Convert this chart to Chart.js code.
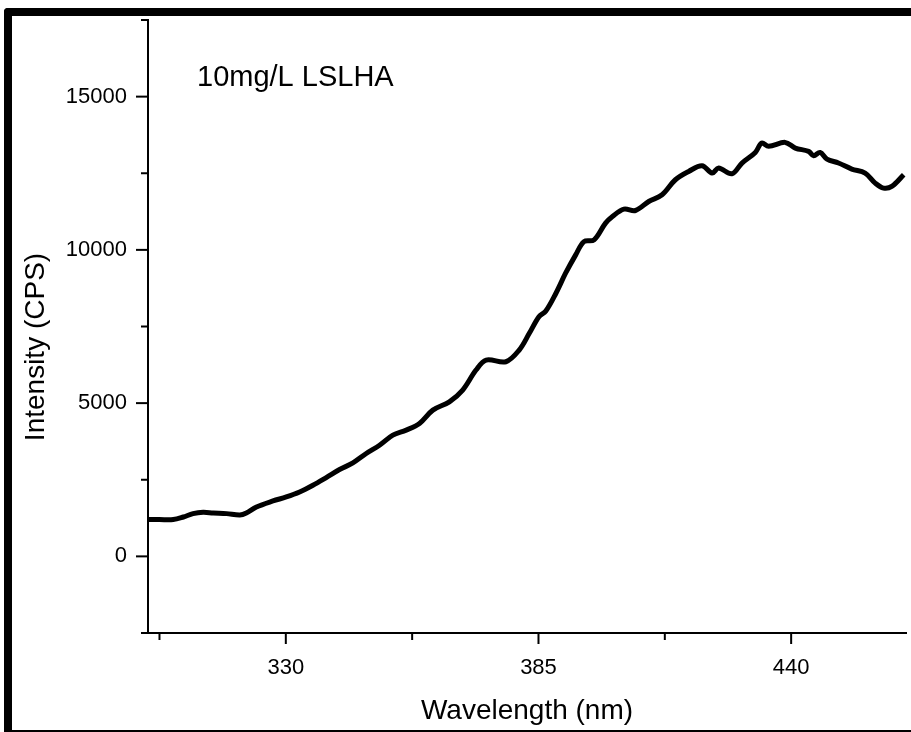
<!DOCTYPE html>
<html>
<head>
<meta charset="utf-8">
<title>LSLHA fluorescence</title>
<script src="https://cdn.jsdelivr.net/npm/chart.js@4.4.1/dist/chart.umd.min.js"></script>
<style>
    html, body { margin: 0; padding: 0; background: #fff; overflow: hidden; }
    #wrap { position: relative; width: 911px; height: 732px; }
    /* scanned page frame: thick top/left edge, thin bottom */
    #frame {
        position: absolute; left: 4px; top: 8px; width: 1000px; height: 724px;
        box-sizing: border-box;
        border-top: 8px solid #000; border-left: 8px solid #000; border-bottom: 2px solid #000;
        border-top-left-radius: 4px;
        pointer-events: none;
    }
</style>
</head>
<body>
<div id="wrap">
    <canvas id="spectrum" width="911" height="732"></canvas>
    <div id="frame"></div>
</div>
<script>
// Emission spectrum, 10mg/L LSLHA
const wavelength = [
    300.0, 302.5, 305.5, 307.7, 309.8, 312.0, 314.2, 317.1, 320.0, 321.4,
    323.6, 327.2, 330.1, 333.0, 335.9, 338.8, 341.7, 344.6, 347.5, 350.4,
    353.3, 356.2, 359.1, 362.0, 365.6, 368.5, 371.4, 373.6, 377.9, 380.8,
    383.0, 385.1, 386.6, 388.8, 390.9, 393.1, 394.9, 397.1, 399.6, 401.1,
    403.6, 406.1, 409.0, 411.9, 414.8, 417.7, 420.6, 422.8, 424.2, 427.1,
    429.3, 432.2, 433.6, 435.1, 438.7, 440.9, 443.8, 444.9, 446.3, 447.8,
    450.3, 453.2, 456.1, 458.3, 460.1, 461.9, 464.5
];
const intensity = [
    1200, 1200, 1200, 1285, 1395, 1438, 1415, 1395, 1350, 1415,
    1611, 1807, 1938, 2101, 2320, 2572, 2833, 3049, 3356, 3627,
    3954, 4118, 4337, 4771, 5043, 5425, 6078, 6405, 6350, 6732,
    7277, 7821, 8007, 8585, 9238, 9837, 10271, 10327, 10872, 11089,
    11330, 11285, 11579, 11797, 12288, 12559, 12745, 12506, 12670, 12484,
    12833, 13180, 13486, 13377, 13507, 13322, 13213, 13072, 13180, 12963,
    12833, 12637, 12506, 12179, 12016, 12070, 12451
];

// axis ticks
const xMajor = [330, 385, 440];
const xMinor = [302.5, 357.5, 412.5];
const yMajor = [0, 5000, 10000, 15000];
const yMinor = [-2500, 2500, 7500, 12500, 17500];

const xTicks = xMajor.concat(xMinor).sort((a, b) => a - b);
const yTicks = yMajor.concat(yMinor).sort((a, b) => a - b);

const FONT = "'Liberation Sans', Arial, sans-serif";

// draws the outward tick marks (long for major, short for minor) plus the inset label and y title
const decorations = {
    id: 'decorations',
    afterDraw(chart) {
        const { ctx, scales: { x, y } } = chart;
        ctx.save();
        ctx.strokeStyle = '#000';
        ctx.lineWidth = 2;

        xTicks.forEach(v => {
            const px = x.getPixelForValue(v);
            const len = xMajor.includes(v) ? 11 : 7;
            ctx.beginPath();
            ctx.moveTo(px, x.top);
            ctx.lineTo(px, x.top + len);
            ctx.stroke();
        });
        yTicks.forEach(v => {
            const py = y.getPixelForValue(v);
            const len = yMajor.includes(v) ? 12 : 7;
            ctx.beginPath();
            ctx.moveTo(y.right, py);
            ctx.lineTo(y.right - len, py);
            ctx.stroke();
        });

        ctx.fillStyle = '#000';
        ctx.font = '29px ' + FONT;
        ctx.textAlign = 'left';
        ctx.textBaseline = 'middle';
        ctx.fillText('10mg/L LSLHA', 197, 78);

        ctx.translate(36, 347);
        ctx.rotate(-Math.PI / 2);
        ctx.font = '28px ' + FONT;
        ctx.textAlign = 'center';
        ctx.fillText('Intensity (CPS)', 0, 0);
        ctx.restore();
    }
};

const ctx = document.getElementById('spectrum');

new Chart(ctx, {
    type: 'scatter',
    data: {
        datasets: [{
            data: wavelength.map((w, i) => ({ x: w, y: intensity[i] })),
            showLine: true,
            borderColor: '#000',
            borderWidth: 5,
            pointRadius: 0,
            tension: 0.35,
            fill: false
        }]
    },
    options: {
        responsive: false,
        animation: false,
        layout: { padding: { top: 20, right: 5, left: 0, bottom: 0 } },
        plugins: {
            legend: { display: false },
            tooltip: { enabled: false }
        },
        scales: {
            x: {
                type: 'linear',
                min: 300,
                max: 465,
                afterBuildTicks: scale => { scale.ticks = xTicks.map(v => ({ value: v })); },
                afterFit: scale => { scale.height = 99; },
                grid: { display: true, drawOnChartArea: false, drawTicks: false },
                border: { color: '#000', width: 2 },
                ticks: {
                    autoSkip: false,
                    maxRotation: 0,
                    padding: 22,
                    color: '#000',
                    font: { family: FONT, size: 22 },
                    callback: v => xMajor.includes(v) ? String(v) : ''
                },
                title: {
                    display: true,
                    text: 'Wavelength (nm)',
                    color: '#000',
                    font: { family: FONT, size: 28 },
                    padding: { top: 0, bottom: 4 }
                }
            },
            y: {
                min: -2500,
                max: 17500,
                afterBuildTicks: scale => { scale.ticks = yTicks.map(v => ({ value: v })); },
                afterFit: scale => {
                    scale.width = 148;
                    scale.paddingTop = 0;
                    scale.paddingBottom = 0;
                },
                grid: { display: true, drawOnChartArea: false, drawTicks: false },
                border: { color: '#000', width: 2 },
                ticks: {
                    autoSkip: false,
                    padding: 21,
                    color: '#000',
                    font: { family: FONT, size: 22 },
                    callback: v => yMajor.includes(v) ? String(v) : ''
                }
            }
        }
    },
    plugins: [decorations]
});
</script>
</body>
</html>
